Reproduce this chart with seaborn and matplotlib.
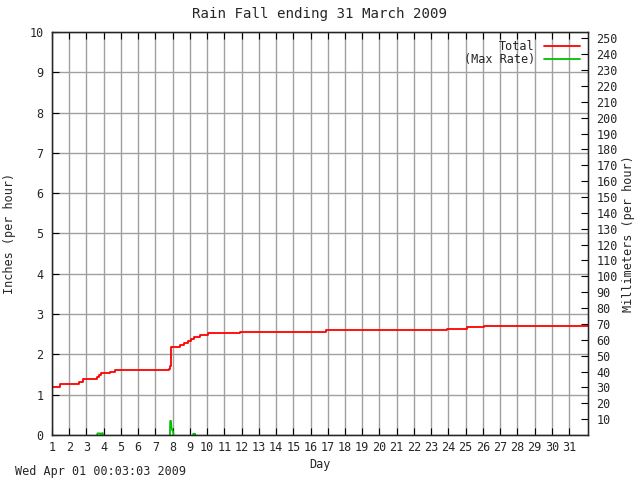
import numpy as np
import pandas as pd
import seaborn as sns
import matplotlib
matplotlib.use("Agg")
import matplotlib.pyplot as plt

# cumulative rain total (inches), step changes by day of month
total_day = [1.0, 1.47, 2.59, 2.78, 3.60, 3.71, 3.85, 4.37, 4.68, 7.76, 7.82, 7.88, 7.92,
             8.44, 8.63, 8.92, 9.06, 9.22, 9.60, 10.03, 11.93, 16.87, 23.90, 25.10, 26.08, 32.1]
total_in = [1.18, 1.27, 1.32, 1.38, 1.45, 1.49, 1.53, 1.56, 1.61, 1.65, 1.72, 2.00, 2.19,
            2.23, 2.29, 2.33, 2.37, 2.42, 2.47, 2.52, 2.55, 2.60, 2.63, 2.67, 2.70, 2.70]

# max rain rate (inches per hour), only the bursts where it rained
rate_day = [3.62, 3.64, 3.80, 3.82, 3.94, 3.96,
            7.84, 7.86, 7.90, 7.93, 7.97, 8.02, 8.05,
            9.18, 9.20, 9.30, 9.32]
rate_in = [0, 0.04, 0.04, 0.02, 0.05, 0,
           0, 0.35, 0.35, 0.20, 0.12, 0.10, 0,
           0, 0.03, 0.03, 0]
rate_burst = [1, 1, 1, 1, 1, 1,
              2, 2, 2, 2, 2, 2, 2,
              3, 3, 3, 3]

days = list(range(1, 32))
inch_ticks = list(range(0, 11))
mm_ticks = list(range(10, 260, 10))

df_t = pd.DataFrame({"day": total_day, "inches": total_in})
df_r = pd.DataFrame({"day": rate_day, "inches": rate_in, "burst": rate_burst})

sns.set_style("white")
plt.rcParams["font.family"] = ["DejaVu Sans Mono"]
plt.rcParams["font.size"] = 8.5

fig = plt.figure(figsize=(6.4, 4.8), dpi=100)
ax = fig.add_axes([52 / 640, 45 / 480, 536 / 640, 403 / 480])

sns.lineplot(data=df_t, x="day", y="inches", ax=ax, color="#ff0000", lw=1.3,
             drawstyle="steps-post", estimator=None, sort=False, label="Total")
sns.lineplot(data=df_r, x="day", y="inches", units="burst", ax=ax, color="#00c000", lw=1.3,
             estimator=None, sort=False, label="(Max Rate)")

ax.set_xlim(1, 32.1)
ax.set_ylim(0, 10)
ax.set_xticks(days)
ax.set_yticks(inch_ticks)
ax.grid(True, color="#a0a0a0", lw=1)
ax.set_axisbelow(True)
for s in ax.spines.values():
    s.set_color("black")
    s.set_linewidth(1)
    s.set_zorder(3)
ax.tick_params(axis="x", direction="in", length=5, top=True, bottom=True, color="black", pad=4)
ax.tick_params(axis="y", direction="in", length=5, left=True, right=False, color="black", pad=6)
ax.set_xlabel("Day", labelpad=3)
ax.set_ylabel("Inches (per hour)", labelpad=10)
ax.set_title("Rain Fall ending 31 March 2009", pad=10)

ax2 = ax.twinx()
ax2.set_ylim(0, 254)
ax2.set_yticks(mm_ticks)
ax2.tick_params(axis="y", direction="in", length=5, right=True, color="black", pad=6)
ax2.set_ylabel("Millimeters (per hour)", labelpad=3)
ax2.grid(False)

handles, labels = ax.get_legend_handles_labels()
leg = ax.legend(handles[:2], labels[:2], loc="upper right", frameon=False, markerfirst=False,
                handlelength=3.0, borderaxespad=0.5, borderpad=0.2, labelspacing=0.0,
                handletextpad=0.8)
for t in leg.get_texts():
    t.set_ha("right")

fig.text(15 / 640, 1 - 471 / 480, "Wed Apr 01 00:03:03 2009", va="center")

fig.savefig("out.png", dpi=100)
